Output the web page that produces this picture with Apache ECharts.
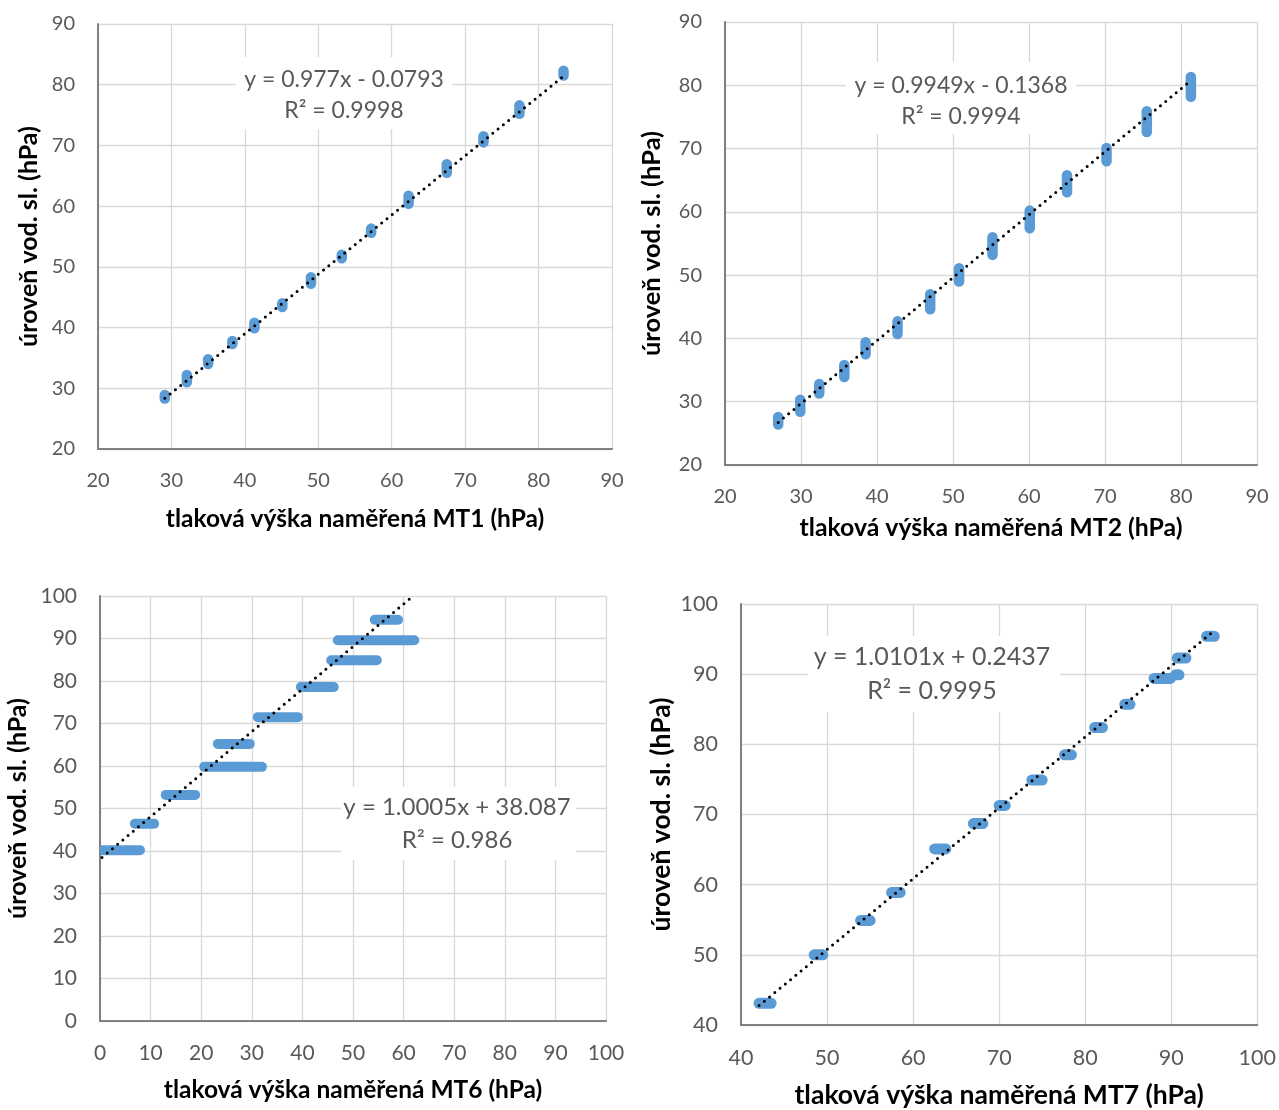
<!DOCTYPE html>
<html>
<head>
<meta charset="utf-8">
<script src="https://cdn.jsdelivr.net/npm/echarts@6/dist/echarts.min.js"></script>
<style>
  html, body { margin: 0; padding: 0; background: #ffffff; }
  #chart { width: 1279px; height: 1110px; }
</style>
</head>
<body>
<div id="chart"></div>
<script>
// MT1: readings grouped per measured value (x), spread of level values (y)
const mt1X    = [29.1, 32.1, 35.0, 38.3, 41.3, 45.1, 49.0, 53.2, 57.2, 62.3, 67.5, 72.5, 77.4, 83.4];
const mt1YMin = [28.3, 31.0, 34.0, 37.3, 39.9, 43.4, 47.2, 51.4, 55.6, 60.4, 65.5, 70.5, 75.2, 81.5];
const mt1YMax = [28.9, 32.2, 34.8, 37.8, 40.8, 44.0, 48.3, 52.0, 56.3, 61.7, 66.9, 71.5, 76.6, 82.3];

// MT2: readings grouped per measured value (x), spread of level values (y)
const mt2X    = [27.0, 29.9, 32.4, 35.7, 38.5, 42.7, 47.0, 50.8, 55.2, 60.1, 65.0, 70.2, 75.5, 81.3];
const mt2YMin = [26.4, 28.4, 31.3, 33.9, 37.5, 40.7, 44.6, 49.0, 53.2, 57.4, 63.1, 68.0, 72.6, 78.2];
const mt2YMax = [27.6, 30.3, 32.8, 35.8, 39.4, 42.7, 47.0, 51.1, 56.0, 60.2, 65.8, 70.1, 75.9, 81.3];

// MT6: readings grouped per level (y), spread of measured values (x)
const mt6Y    = [40.2, 46.4, 53.2, 59.8, 65.2, 71.5, 78.6, 84.9, 89.6, 94.4];
const mt6XMin = [0.4, 6.9, 13.0, 20.6, 23.3, 31.2, 39.7, 45.7, 47.0, 54.3];
const mt6XMax = [7.9, 10.7, 18.8, 32.0, 29.6, 39.1, 46.2, 54.7, 62.1, 58.9];

// MT7: readings grouped per level (y), spread of measured values (x)
const mt7Y    = [43.1, 50.0, 54.9, 58.9, 65.1, 68.7, 71.3, 74.9, 78.5, 82.4, 85.7, 89.4, 89.9, 92.3, 95.4];
const mt7XMin = [42.1, 48.5, 53.9, 57.5, 62.5, 67.0, 70.0, 73.8, 77.6, 81.1, 84.6, 88.0, 90.5, 90.7, 94.1];
const mt7XMax = [43.5, 49.5, 55.0, 58.5, 63.8, 68.1, 70.7, 75.0, 78.4, 82.0, 85.2, 89.9, 90.9, 91.7, 95.0];

// Linear trend lines (slope, intercept, R²)
const trendSlope     = [0.977, 0.9949, 1.0005, 1.0101];
const trendIntercept = [-0.0793, -0.1368, 38.087, 0.2437];
const trendR2        = ['0.9998', '0.9994', '0.986', '0.9995'];

// Axis ranges and titles
const axisMin  = [20, 20, 0, 40];
const axisMax  = [90, 90, 100, 100];
const axisStep = [10, 10, 10, 10];
const xTitles  = [
  'tlaková výška naměřená MT1 (hPa)',
  'tlaková výška naměřená MT2 (hPa)',
  'tlaková výška naměřená MT6 (hPa)',
  'tlaková výška naměřená MT7 (hPa)'
];
const yTitle = 'úroveň vod. sl. (hPa)';

// Segments [x1, y1, x2, y2] covering the overlapping readings
const segments = [
  mt1X.map((x, i) => [x, mt1YMin[i], x, mt1YMax[i]]),
  mt2X.map((x, i) => [x, mt2YMin[i], x, mt2YMax[i]]),
  mt6Y.map((y, i) => [mt6XMin[i], y, mt6XMax[i], y]),
  mt7Y.map((y, i) => [mt7XMin[i], y, mt7XMax[i], y])
];

const FONT = 'Lato';
const BLUE = '#5b9bd5';

// Panel layout (plot areas in pixels) and text sizes
const panels = [
  { left: 98,  top: 24,  width: 514, height: 425, xGap: 58, yGap: 57, tick: 20, xTitle: 24.5, yTitle: 25, eq: 23, marker: 10.5,
    box: { x: 236, y: 57, w: 216, h: 72 }, eqCx: 344, eqCy: 95 },
  { left: 725, top: 22,  width: 532, height: 443, xGap: 51, yGap: 60, tick: 20, xTitle: 24.8, yTitle: 25.5, eq: 23, marker: 10.5,
    box: { x: 846, y: 62, w: 230, h: 72 }, eqCx: 961, eqCy: 101 },
  { left: 100, top: 596, width: 506, height: 425, xGap: 57, yGap: 70, tick: 21, xTitle: 24.5, yTitle: 25, eq: 24, marker: 10,
    box: { x: 341, y: 787, w: 235, h: 73 }, eqCx: 457, eqCy: 824 },
  { left: 741, top: 604, width: 517, height: 421, xGap: 57, yGap: 66, tick: 21.5, xTitle: 26.5, yTitle: 26.5, eq: 25, marker: 11,
    box: { x: 808, y: 636, w: 252, h: 76 }, eqCx: 932, eqCy: 674 }
];

function fmt(n) { return String(n); }

const grids = [], xAxes = [], yAxes = [], series = [], graphics = [];

panels.forEach((p, i) => {
  grids.push({ left: p.left, top: p.top, width: p.width, height: p.height, containLabel: false });

  const common = {
    gridIndex: i,
    type: 'value',
    min: axisMin[i],
    max: axisMax[i],
    interval: axisStep[i],
    axisLine: { show: true, onZero: false, lineStyle: { color: '#808080', width: 2 } },
    axisTick: { show: false },
    splitLine: { show: true, lineStyle: { color: '#d9d9d9', width: 1.3 } },
    axisLabel: { color: '#595959', fontFamily: FONT, fontSize: p.tick },
    nameLocation: 'middle'
  };
  const titleStyle = size => ({ color: '#000000', fontFamily: FONT, fontWeight: 'bold', fontSize: size });

  xAxes.push(Object.assign({}, common, {
    position: 'bottom',
    name: xTitles[i],
    nameGap: p.xGap,
    nameTextStyle: titleStyle(p.xTitle),
    axisLabel: Object.assign({}, common.axisLabel, { margin: 22 })
  }));
  yAxes.push(Object.assign({}, common, {
    position: 'left',
    name: yTitle,
    nameGap: p.yGap,
    nameTextStyle: titleStyle(p.yTitle),
    axisLabel: Object.assign({}, common.axisLabel, { margin: 23 })
  }));

  // Measured readings: overlapping circular markers drawn as round-capped strokes
  const markerWidth = p.marker;
  series.push({
    type: 'custom',
    xAxisIndex: i,
    yAxisIndex: i,
    clip: true,
    z: 2,
    encode: { x: [0, 2], y: [1, 3] },
    data: segments[i],
    renderItem: function (params, api) {
      const a = api.coord([api.value(0), api.value(1)]);
      const b = api.coord([api.value(2), api.value(3)]);
      return {
        type: 'line',
        shape: { x1: a[0], y1: a[1], x2: b[0], y2: b[1] },
        style: { stroke: BLUE, lineWidth: markerWidth, lineCap: 'round', fill: null }
      };
    }
  });

  // Linear trend line across the x-range of the readings
  const xs = segments[i].flatMap(s => [s[0], s[2]]);
  const x0 = Math.min.apply(null, xs), x1 = Math.max.apply(null, xs);
  const a = trendSlope[i], b = trendIntercept[i];
  series.push({
    type: 'line',
    xAxisIndex: i,
    yAxisIndex: i,
    z: 3,
    clip: true,
    symbol: 'none',
    silent: true,
    lineStyle: { color: '#000000', width: 3, type: [0, 6.8], cap: 'round' },
    data: [[x0, a * x0 + b], [x1, a * x1 + b]]
  });

  // Equation label on a white box
  const eqText = 'y = ' + fmt(a) + 'x ' + (b < 0 ? '- ' : '+ ') + fmt(Math.abs(b)) + '\nR² = ' + trendR2[i];
  graphics.push({
    type: 'rect',
    z: 100,
    shape: { x: p.box.x, y: p.box.y, width: p.box.w, height: p.box.h },
    style: { fill: '#ffffff' }
  });
  graphics.push({
    type: 'text',
    z: 101,
    style: {
      text: eqText, x: p.eqCx, y: p.eqCy, align: 'center', verticalAlign: 'middle',
      fontFamily: FONT, fontSize: p.eq, lineHeight: p.eq * 1.36, fill: '#595959'
    }
  });
});

const chart = echarts.init(document.getElementById('chart'), null, { renderer: 'canvas' });
chart.setOption({
  backgroundColor: '#ffffff',
  animation: false,
  textStyle: { fontFamily: FONT },
  grid: grids,
  xAxis: xAxes,
  yAxis: yAxes,
  series: series,
  graphic: graphics
});
</script>
</body>
</html>
